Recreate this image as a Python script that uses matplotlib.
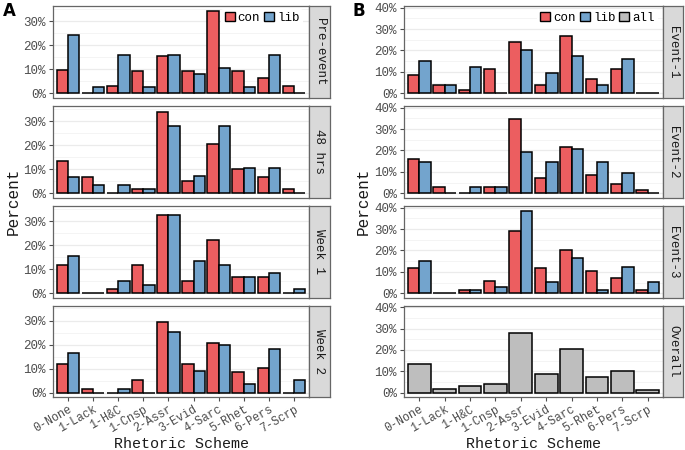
import matplotlib
matplotlib.use("Agg")
import matplotlib.pyplot as plt
from matplotlib.patches import Patch
import numpy as np

plt.rcParams['font.family'] = ['Liberation Mono', 'DejaVu Sans Mono']

categories = ["0-None", "1-Lack", "1-H&C", "1-Cnsp", "2-Assr",
              "3-Evid", "4-Sarc", "5-Rhet", "6-Pers", "7-Scrp"]

# Panel A (time periods)
a_facets = ["Pre-event", "48 hrs", "Week 1", "Week 2"]
a_con = [
    [9.5, 0.0, 3.0, 9.4, 15.5, 9.4, 34.1, 9.4, 6.2, 3.0],
    [13.4, 6.6, 0.0, 1.6, 33.6, 5.0, 20.3, 10.3, 6.8, 1.6],
    [11.8, 0.0, 1.6, 11.8, 32.4, 5.0, 22.3, 6.8, 6.8, 0.0],
    [12.0, 1.6, 0.0, 5.2, 29.2, 12.0, 20.7, 8.5, 10.4, 0.0],
]
a_lib = [
    [24.2, 2.6, 16.0, 2.6, 16.0, 8.0, 10.6, 2.6, 16.0, 0.0],
    [6.9, 3.4, 3.4, 1.8, 28.0, 7.0, 28.0, 10.4, 10.4, 0.0],
    [15.3, 0.0, 5.2, 3.3, 32.4, 13.6, 11.8, 6.8, 8.5, 1.6],
    [16.4, 0.0, 1.8, 0.0, 25.4, 9.0, 19.9, 3.5, 18.1, 5.5],
]

# Panel B (events)
b_facets = ["Event-1", "Event-2", "Event-3", "Overall"]
b_con = [
    [8.4, 4.0, 1.4, 11.2, 23.9, 4.0, 26.8, 6.9, 11.2, 0.0],
    [15.8, 2.8, 0.0, 2.8, 34.5, 7.2, 21.5, 8.6, 4.3, 1.5],
    [11.6, 0.0, 1.4, 5.8, 29.1, 11.6, 20.4, 10.3, 7.2, 1.4],
]
b_lib = [
    [14.9, 4.0, 12.1, 0.0, 20.2, 9.3, 17.5, 4.0, 16.2, 0.0],
    [14.6, 0.0, 3.1, 3.1, 19.2, 14.4, 20.8, 14.4, 9.7, 0.0],
    [15.0, 0.0, 1.4, 2.8, 38.6, 5.5, 16.4, 1.4, 12.1, 5.5],
]
b_all = [13.5, 1.8, 3.4, 4.3, 27.9, 8.6, 20.5, 7.5, 10.4, 1.5]

RED = (236/255, 94/255, 96/255)
BLUE = (115/255, 164/255, 205/255)
GRAY = (190/255, 190/255, 190/255)
BORDER = '#666666'
W, H = 685, 450

fig = plt.figure(figsize=(6.85, 4.5), dpi=100)

row_tops = [6, 106, 206, 305.5]
row_h = 91.5


def make_ax(x0, x1, top):
    return fig.add_axes([x0 / W, 1 - (top + row_h) / H, (x1 - x0) / W, row_h / H])


def style_ax(ax, ymax, yticks, show_x, strip_text, strip_w):
    x = np.arange(len(categories))
    ax.set_xlim(-0.6, len(categories) - 0.4)
    ax.set_ylim(-0.05 * ymax, 1.05 * ymax)
    ax.set_yticks(yticks)
    ax.set_yticklabels([f"{int(t)}%" for t in yticks], fontsize=9, color='#4d4d4d')
    minor = [t + 5 for t in yticks[:-1]]
    if yticks[-1] + 5 < 1.05 * ymax:
        minor.append(yticks[-1] + 5)
    ax.set_yticks(minor, minor=True)
    ax.grid(True, which='major', axis='y', color='#ebebeb', lw=0.9, zorder=0)
    ax.grid(True, which='minor', axis='y', color='#f2f2f2', lw=0.6, zorder=0)
    ax.set_axisbelow(True)
    ax.tick_params(axis='y', which='minor', length=0)
    ax.tick_params(axis='both', which='major', length=3, color='#4d4d4d', width=0.8, pad=2)
    ax.set_xticks(x)
    if show_x:
        ax.set_xticklabels(categories, rotation=30, ha='right', rotation_mode='anchor',
                           fontsize=8.4, color='#4d4d4d')
        ax.tick_params(axis='x', pad=1.5)
    else:
        ax.set_xticklabels([])
        ax.tick_params(axis='x', length=0)
    for s in ax.spines.values():
        s.set_color(BORDER)
        s.set_linewidth(0.9)
    pos = ax.get_position()
    sax = fig.add_axes([pos.x1, pos.y0, strip_w / W, pos.height])
    sax.set_facecolor('#d9d9d9')
    sax.set_xticks([])
    sax.set_yticks([])
    for s in sax.spines.values():
        s.set_color(BORDER)
        s.set_linewidth(0.9)
    sax.text(0.5, 0.5, strip_text, rotation=-90, ha='center', va='center',
             fontsize=9, color='#1a1a1a', transform=sax.transAxes)


# Panel A
x = np.arange(len(categories))
bw = 0.45
for i, name in enumerate(a_facets):
    ax = make_ax(53, 309, row_tops[i])
    ax.bar(x - bw / 2, a_con[i], width=bw, color=RED, edgecolor='black', lw=1.1, zorder=3)
    ax.bar(x + bw / 2, a_lib[i], width=bw, color=BLUE, edgecolor='black', lw=1.1, zorder=3)
    style_ax(ax, 34.5, [0, 10, 20, 30], i == 3, name, 21)
    if i == 0:
        handles = [Patch(facecolor=RED, edgecolor='black', lw=1.0, label='con'),
                   Patch(facecolor=BLUE, edgecolor='black', lw=1.0, label='lib')]
        ax.legend(handles=handles, ncol=2, loc='upper right', bbox_to_anchor=(0.985, 1.0),
                  fontsize=9, frameon=True, facecolor='white', edgecolor='none',
                  framealpha=1, handlelength=0.8, handleheight=0.8, handletextpad=0.25,
                  columnspacing=0.3, borderpad=0.25, borderaxespad=0.2)

fig.text(181 / W, 1 - 443.5 / H, "Rhetoric Scheme", ha='center', va='center',
         fontsize=10.8, color='#1a1a1a')
fig.text(13 / W, 1 - 201 / H, "Percent", rotation=90, ha='center', va='center',
         fontsize=11.5, color='#1a1a1a')
fig.text(3 / W, 1 - 11 / H, "A", fontsize=12, fontweight='bold', family='DejaVu Sans',
         ha='left', va='center')

# Panel B
for i, name in enumerate(b_facets):
    ax = make_ax(404, 663, row_tops[i])
    if i < 3:
        ax.bar(x - bw / 2, b_con[i], width=bw, color=RED, edgecolor='black', lw=1.1, zorder=3)
        ax.bar(x + bw / 2, b_lib[i], width=bw, color=BLUE, edgecolor='black', lw=1.1, zorder=3)
    else:
        ax.bar(x, b_all, width=0.9, color=GRAY, edgecolor='black', lw=1.1, zorder=3)
    style_ax(ax, 38.8, [0, 10, 20, 30, 40], i == 3, name, 20)
    if i == 0:
        handles = [Patch(facecolor=RED, edgecolor='black', lw=1.0, label='con'),
                   Patch(facecolor=BLUE, edgecolor='black', lw=1.0, label='lib'),
                   Patch(facecolor=GRAY, edgecolor='black', lw=1.0, label='all')]
        ax.legend(handles=handles, ncol=3, loc='upper right', bbox_to_anchor=(0.99, 1.0),
                  fontsize=9, frameon=True, facecolor='white', edgecolor='none',
                  framealpha=1, handlelength=0.8, handleheight=0.8, handletextpad=0.25,
                  columnspacing=0.3, borderpad=0.25, borderaxespad=0.2)

fig.text(533 / W, 1 - 443.5 / H, "Rhetoric Scheme", ha='center', va='center',
         fontsize=10.8, color='#1a1a1a')
fig.text(363 / W, 1 - 201 / H, "Percent", rotation=90, ha='center', va='center',
         fontsize=11.5, color='#1a1a1a')
fig.text(352 / W, 1 - 11 / H, "B", fontsize=12, fontweight='bold', family='DejaVu Sans',
         ha='left', va='center')

fig.savefig("out.png", dpi=100)
